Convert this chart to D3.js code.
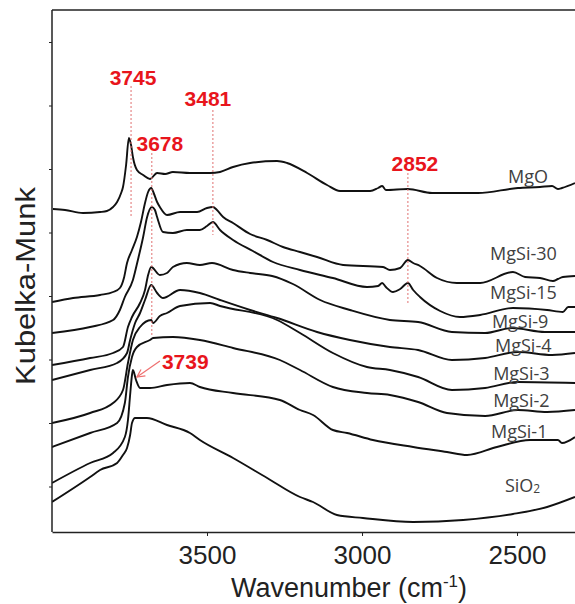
<!DOCTYPE html>
<html>
<head>
<meta charset="utf-8">
<script src="https://cdn.jsdelivr.net/npm/d3@7/dist/d3.min.js"></script>
<style>
  body { margin: 0; background: #fff; }
  svg { display: block; }
</style>
</head>
<body>
<div id="chart"></div>
<script>
// Spectra: [wavenumber (cm-1), Kubelka-Munk (offset, a.u.)]
var mgO = [[3997,3.23],[3958,3.22],[3900,3.19],[3845,3.20],[3823,3.21],[3803,3.25],[3790,3.30],[3777,3.39],[3771,3.45],[3761,3.67],[3752,3.94],[3745,3.87],[3739,3.75],[3726,3.62],[3706,3.57],[3684,3.53],[3661,3.59],[3635,3.58],[3610,3.60],[3555,3.59],[3490,3.59],[3458,3.60],[3416,3.65],[3361,3.69],[3274,3.71],[3242,3.69],[3177,3.59],[3113,3.47],[3071,3.41],[2974,3.41],[2948,3.44],[2935,3.46],[2923,3.42],[2852,3.43],[2774,3.39],[2626,3.39],[2497,3.44],[2426,3.45],[2387,3.46],[2368,3.43],[2355,3.44],[2313,3.49]];
var mgSi30 = [[4000,2.30],[3932,2.34],[3845,2.37],[3803,2.40],[3781,2.44],[3768,2.54],[3758,2.69],[3742,2.82],[3726,2.95],[3713,3.10],[3700,3.29],[3690,3.40],[3680,3.44],[3672,3.39],[3661,3.30],[3652,3.25],[3629,3.17],[3587,3.20],[3532,3.20],[3500,3.24],[3481,3.25],[3468,3.22],[3448,3.15],[3416,3.09],[3361,2.98],[3306,2.92],[3255,2.85],[3200,2.80],[3145,2.75],[3061,2.67],[2932,2.65],[2910,2.62],[2877,2.64],[2852,2.72],[2835,2.69],[2813,2.66],[2758,2.54],[2694,2.49],[2619,2.49],[2513,2.60],[2474,2.55],[2426,2.54],[2384,2.51],[2368,2.53],[2352,2.55],[2313,2.56]];
var mgSi15 = [[4000,1.99],[3877,2.05],[3803,2.12],[3781,2.22],[3765,2.35],[3739,2.52],[3723,2.72],[3706,2.95],[3694,3.14],[3678,3.25],[3668,3.22],[3661,3.15],[3642,3.00],[3610,2.99],[3565,3.02],[3523,3.02],[3500,3.06],[3481,3.10],[3458,3.02],[3416,2.92],[3352,2.81],[3287,2.70],[3200,2.62],[3094,2.54],[2984,2.45],[2948,2.46],[2935,2.49],[2923,2.45],[2900,2.40],[2877,2.43],[2852,2.49],[2835,2.42],[2813,2.35],[2748,2.21],[2684,2.15],[2619,2.17],[2513,2.24],[2403,2.22],[2352,2.20],[2335,2.25],[2313,2.25]];
var mgSi9 = [[4000,1.67],[3877,1.74],[3803,1.79],[3771,1.85],[3755,2.05],[3742,2.15],[3716,2.29],[3700,2.42],[3690,2.57],[3680,2.65],[3652,2.57],[3629,2.59],[3610,2.65],[3565,2.69],[3523,2.67],[3484,2.69],[3416,2.62],[3361,2.59],[3290,2.56],[3223,2.48],[3135,2.32],[3039,2.22],[2910,2.12],[2819,2.10],[2710,2.00],[2603,1.99],[2516,2.04],[2410,2.00],[2313,2.00]];
var mgSi4 = [[4000,1.52],[3877,1.62],[3790,1.69],[3758,1.79],[3748,1.92],[3732,2.09],[3716,2.19],[3700,2.32],[3680,2.47],[3661,2.39],[3642,2.34],[3587,2.42],[3523,2.39],[3458,2.32],[3361,2.22],[3274,2.14],[3145,2.00],[3039,1.92],[2910,1.85],[2819,1.82],[2710,1.72],[2603,1.74],[2497,1.80],[2387,1.77],[2313,1.79]];
var mgSi3 = [[4000,1.09],[3877,1.19],[3803,1.29],[3771,1.42],[3755,1.69],[3739,1.92],[3716,2.05],[3680,2.12],[3674,2.09],[3652,2.16],[3629,2.19],[3587,2.26],[3490,2.29],[3458,2.26],[3274,2.12],[3200,1.99],[3094,1.79],[2984,1.65],[2910,1.62],[2819,1.55],[2710,1.42],[2603,1.44],[2497,1.50],[2313,1.49]];
var mgSi2 = [[4000,0.85],[3877,0.99],[3790,1.09],[3765,1.29],[3755,1.55],[3742,1.75],[3726,1.85],[3684,1.92],[3674,1.94],[3610,1.95],[3523,1.92],[3416,1.84],[3265,1.72],[3200,1.62],[3094,1.45],[2984,1.39],[2910,1.37],[2819,1.30],[2726,1.19],[2603,1.16],[2497,1.22],[2403,1.20],[2313,1.22]];
var mgSi1 = [[4000,0.49],[3877,0.69],[3803,0.79],[3765,0.95],[3755,1.12],[3748,1.37],[3742,1.57],[3739,1.62],[3729,1.52],[3716,1.44],[3684,1.44],[3629,1.47],[3555,1.49],[3523,1.45],[3416,1.39],[3265,1.32],[3200,1.22],[3158,1.17],[3094,1.02],[3048,0.99],[2965,0.92],[2835,0.85],[2726,0.80],[2661,0.77],[2565,0.85],[2458,0.92],[2368,0.92],[2355,0.89],[2313,0.95]];
var siO2 = [[4000,0.30],[3877,0.55],[3845,0.62],[3790,0.69],[3771,0.77],[3758,0.84],[3748,0.97],[3742,1.09],[3732,1.14],[3694,1.14],[3629,1.07],[3555,0.99],[3523,0.92],[3416,0.74],[3306,0.54],[3200,0.35],[3158,0.30],[3081,0.17],[2997,0.14],[2835,0.10],[2674,0.12],[2513,0.18],[2403,0.25],[2313,0.35]];

var seriesNames = ["MgO", "MgSi-30", "MgSi-15", "MgSi-9", "MgSi-4", "MgSi-3", "MgSi-2", "MgSi-1", "SiO2"];
var seriesData = [mgO, mgSi30, mgSi15, mgSi9, mgSi4, mgSi3, mgSi2, mgSi1, siO2];
var xTicks = [3500, 3000, 2500];
var peakLabels = ["3745", "3678", "3481", "2852"];
var peakValues = [3745, 3678, 3481, 2852];

// Size of the drawing
var width = 575, height = 604;
var margin = { top: 10, right: 0, bottom: 72, left: 52 };

var svg = d3.select("#chart").append("svg")
  .attr("width", width)
  .attr("height", height);

// Scales (wavenumber axis reversed)
var x = d3.scaleLinear().domain([4000, 2313]).range([margin.left, width - margin.right]);
var y = d3.scaleLinear().domain([0, 5.22]).range([height - margin.bottom, margin.top]);

// Clip for the curves
svg.append("clipPath").attr("id", "plot-clip")
  .append("rect")
  .attr("x", margin.left).attr("y", margin.top)
  .attr("width", width - margin.left).attr("height", height - margin.bottom - margin.top);

// Spectra
var line = d3.line()
  .x(function (d) { return x(d[0]); })
  .y(function (d) { return y(d[1]); })
  .curve(d3.curveMonotoneX);

svg.append("g").attr("clip-path", "url(#plot-clip)")
  .selectAll("path.spectrum").data(seriesData).enter()
  .append("path")
  .attr("class", "spectrum")
  .attr("d", line)
  .attr("fill", "none")
  .attr("stroke", "#111")
  .attr("stroke-width", 1.9)
  .attr("stroke-linejoin", "round");

// Frame: left, bottom and top line
var frame = svg.append("g").attr("stroke", "#222").attr("stroke-width", 1.5);
frame.append("line").attr("x1", margin.left).attr("x2", margin.left).attr("y1", y.range()[1]).attr("y2", y.range()[0]);
frame.append("line").attr("x1", margin.left).attr("x2", width).attr("y1", y.range()[1]).attr("y2", y.range()[1]);

// X axis
var xAxis = svg.append("g")
  .attr("transform", "translate(0," + y.range()[0] + ")")
  .call(d3.axisBottom(x).tickValues(xTicks).tickFormat(d3.format("d"))
    .tickSize(4).tickPadding(10).tickSizeOuter(0));
xAxis.select(".domain").attr("stroke", "#222").attr("stroke-width", 1.5);
xAxis.selectAll(".tick line").attr("stroke", "#222");
xAxis.selectAll(".tick text")
  .attr("font-family", "'Liberation Sans', Arial, sans-serif")
  .attr("font-size", 26)
  .attr("fill", "#222");

// Y axis ticks, no labels
var yAxis = svg.append("g")
  .attr("transform", "translate(" + margin.left + ",0)")
  .call(d3.axisLeft(y).tickValues(d3.range(8).map(function (k) { return 4.90 - 0.635 * k; }))
    .tickSize(3).tickFormat("").tickSizeOuter(0));
yAxis.select(".domain").remove();
yAxis.selectAll(".tick line").attr("stroke", "#222");

// Axis titles
var xTitle = svg.append("text")
  .attr("x", 349).attr("y", 597)
  .attr("text-anchor", "middle")
  .attr("font-family", "'Liberation Sans', Arial, sans-serif")
  .attr("font-size", 27)
  .attr("fill", "#222");
xTitle.append("tspan").text("Wavenumber (cm");
xTitle.append("tspan").attr("font-size", 17).attr("dy", -10).text("-1");
xTitle.append("tspan").attr("dy", 10).text(")");

svg.append("text")
  .attr("transform", "translate(35,286) rotate(-90)")
  .attr("text-anchor", "middle")
  .attr("font-family", "'Liberation Sans', Arial, sans-serif")
  .attr("font-size", 27)
  .attr("textLength", 198)
  .attr("lengthAdjust", "spacingAndGlyphs")
  .attr("fill", "#222")
  .text("Kubelka-Munk");

// Series labels
var labelPos = [[2529, 3.49], [2587, 2.72], [2587, 2.33], [2581, 2.04], [2571, 1.80], [2577, 1.52], [2577, 1.25], [2584, 0.94], [2539, 0.40]];
var labels = svg.append("g")
  .attr("font-family", "'Open Sans', sans-serif")
  .attr("font-size", 18)
  .attr("fill", "#404040");
seriesNames.forEach(function (name, i) {
  var t = labels.append("text").attr("x", x(labelPos[i][0])).attr("y", y(labelPos[i][1]));
  if (name === "SiO2") {
    t.append("tspan").text("SiO");
    t.append("tspan").attr("font-size", 12).attr("dy", 1).text("2");
  } else {
    t.text(name);
  }
});

// Peak markers: dotted red guides and labels
var red = "#e8151c";
var guides = [[4.46, 3.14], [3.79, 1.95], [4.22, 2.97], [3.59, 2.27]];
var labelShift = [[2, 4.47], [8, 3.81], [-5, 4.26], [7, 3.61]];
var marks = svg.append("g");
peakValues.forEach(function (p, i) {
  marks.append("line")
    .attr("x1", x(p)).attr("x2", x(p))
    .attr("y1", y(guides[i][0])).attr("y2", y(guides[i][1]))
    .attr("stroke", "#e07070")
    .attr("stroke-width", 1)
    .attr("stroke-dasharray", "2,2");
  marks.append("text")
    .attr("x", x(p) + labelShift[i][0])
    .attr("y", y(labelShift[i][1]))
    .attr("text-anchor", "middle")
    .attr("font-family", "'Liberation Sans', Arial, sans-serif")
    .attr("font-weight", "bold")
    .attr("font-size", 21)
    .attr("fill", red)
    .text(peakLabels[i]);
});

// 3739 label with arrow
svg.append("defs").append("marker")
  .attr("id", "arrow")
  .attr("viewBox", "0 0 10 10")
  .attr("refX", 9).attr("refY", 5)
  .attr("markerWidth", 8).attr("markerHeight", 8)
  .attr("orient", "auto")
  .append("path")
  .attr("d", "M1,1 L9,5 L1,9")
  .attr("fill", "none")
  .attr("stroke", "#ee7070")
  .attr("stroke-width", 1.3);

svg.append("line")
  .attr("x1", x(3739) + 27).attr("y1", y(1.71))
  .attr("x2", x(3739) + 4).attr("y2", y(1.55))
  .attr("stroke", "#ee7070")
  .attr("stroke-width", 1.2)
  .attr("marker-end", "url(#arrow)");

svg.append("text")
  .attr("x", x(3739) + 29).attr("y", y(1.63))
  .attr("font-family", "'Liberation Sans', Arial, sans-serif")
  .attr("font-weight", "bold")
  .attr("font-size", 21)
  .attr("fill", red)
  .text("3739");
</script>
</body>
</html>
